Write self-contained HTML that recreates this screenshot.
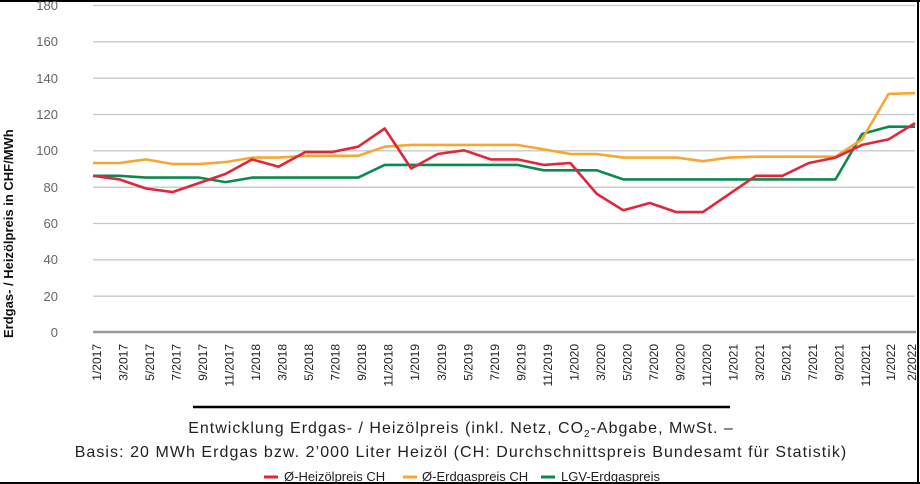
<!DOCTYPE html>
<html><head><meta charset="utf-8"><style>
html,body{margin:0;padding:0;background:#fff;}
svg{display:block;font-family:"Liberation Sans","DejaVu Sans",sans-serif;}
</style></head><body>
<svg width="920" height="484" viewBox="0 0 920 484" xmlns="http://www.w3.org/2000/svg">
<rect x="0" y="0" width="920" height="484" fill="#fff"/>
<line x1="0" y1="1" x2="920" y2="1" stroke="#000" stroke-width="2"/>
<line x1="918" y1="0" x2="918" y2="484" stroke="#000" stroke-width="2"/>
<line x1="0" y1="483" x2="920" y2="483" stroke="#000" stroke-width="2"/>
<g stroke="#c8c8c8" stroke-width="1.3">
<line x1="93" x2="915" y1="5.5" y2="5.5"/>
<line x1="93" x2="915" y1="41.8" y2="41.8"/>
<line x1="93" x2="915" y1="78.2" y2="78.2"/>
<line x1="93" x2="915" y1="114.5" y2="114.5"/>
<line x1="93" x2="915" y1="150.8" y2="150.8"/>
<line x1="93" x2="915" y1="187.2" y2="187.2"/>
<line x1="93" x2="915" y1="223.5" y2="223.5"/>
<line x1="93" x2="915" y1="259.8" y2="259.8"/>
<line x1="93" x2="915" y1="296.2" y2="296.2"/>
</g>
<line x1="93" x2="916" y1="332" y2="332" stroke="#999" stroke-width="2.5"/>
<g fill="#666" font-size="13" text-anchor="end">
<text x="58" y="10">180</text><text x="58" y="46">160</text><text x="58" y="83">140</text>
<text x="58" y="119">120</text><text x="58" y="155">100</text><text x="58" y="192">80</text>
<text x="58" y="228">60</text><text x="58" y="264">40</text><text x="58" y="301">20</text>
<text x="58" y="337">0</text>
</g>
<text transform="translate(13,338) rotate(-90)" font-size="13" font-weight="bold" fill="#111">Erdgas- / Heizölpreis in CHF/MWh</text>
<g id="lines" fill="none" stroke-width="2.6" stroke-linejoin="round"></g>
<g fill="#222" font-size="12" text-anchor="end" id="xl">
<text transform="translate(101,344) rotate(-90)">1/2017</text>
<text transform="translate(127.5,344) rotate(-90)">3/2017</text>
<text transform="translate(154,344) rotate(-90)">5/2017</text>
<text transform="translate(180.6,344) rotate(-90)">7/2017</text>
<text transform="translate(207.1,344) rotate(-90)">9/2017</text>
<text transform="translate(233.6,344) rotate(-90)">11/2017</text>
<text transform="translate(260.1,344) rotate(-90)">1/2018</text>
<text transform="translate(286.6,344) rotate(-90)">3/2018</text>
<text transform="translate(313.2,344) rotate(-90)">5/2018</text>
<text transform="translate(339.7,344) rotate(-90)">7/2018</text>
<text transform="translate(366.2,344) rotate(-90)">9/2018</text>
<text transform="translate(392.7,344) rotate(-90)">11/2018</text>
<text transform="translate(419.2,344) rotate(-90)">1/2019</text>
<text transform="translate(445.8,344) rotate(-90)">3/2019</text>
<text transform="translate(472.3,344) rotate(-90)">5/2019</text>
<text transform="translate(498.8,344) rotate(-90)">7/2019</text>
<text transform="translate(525.3,344) rotate(-90)">9/2019</text>
<text transform="translate(551.8,344) rotate(-90)">11/2019</text>
<text transform="translate(578.4,344) rotate(-90)">1/2020</text>
<text transform="translate(604.9,344) rotate(-90)">3/2020</text>
<text transform="translate(631.4,344) rotate(-90)">5/2020</text>
<text transform="translate(657.9,344) rotate(-90)">7/2020</text>
<text transform="translate(684.4,344) rotate(-90)">9/2020</text>
<text transform="translate(711,344) rotate(-90)">11/2020</text>
<text transform="translate(737.5,344) rotate(-90)">1/2021</text>
<text transform="translate(764,344) rotate(-90)">3/2021</text>
<text transform="translate(790.5,344) rotate(-90)">5/2021</text>
<text transform="translate(817,344) rotate(-90)">7/2021</text>
<text transform="translate(843.6,344) rotate(-90)">9/2021</text>
<text transform="translate(870.1,344) rotate(-90)">11/2021</text>
<text transform="translate(895,344) rotate(-90)">1/2022</text>
<text transform="translate(916,344) rotate(-90)">2/2022</text>
</g>
<line x1="193" x2="730" y1="407" y2="407" stroke="#000" stroke-width="2.5"/>
<text x="461" y="433" font-size="16" text-anchor="middle" fill="#222" letter-spacing="1.0">Entwicklung Erdgas- / Heizölpreis (inkl. Netz, CO<tspan font-size="10" dy="4">2</tspan><tspan dy="-4">-Abgabe, MwSt. –</tspan></text>
<text x="461" y="457" font-size="16" text-anchor="middle" fill="#222" letter-spacing="1.05">Basis: 20 MWh Erdgas bzw. 2’000 Liter Heizöl (CH: Durchschnittspreis Bundesamt für Statistik)</text>
<g font-size="13" fill="#222">
<line x1="264" x2="278" y1="477" y2="477" stroke="#e0263a" stroke-width="3"/>
<text x="284" y="481">Ø-Heizölpreis CH</text>
<line x1="403" x2="417" y1="477" y2="477" stroke="#f5a732" stroke-width="3"/>
<text x="422" y="481">Ø-Erdgaspreis CH</text>
<line x1="541" x2="555" y1="477" y2="477" stroke="#0a8a4f" stroke-width="3"/>
<text x="561" y="481">LGV-Erdgaspreis</text>
</g>
</svg>
<script>
var red=[86,84,79,77,82,87,95,91,99,99,102,112,90,98,100,95,95,92,93,76,67,71,66,66,76,86,86,93,96,103,106,115];
var org=[93,93,95,92.5,92.5,93.5,96,96,97,97,97,102,103,103,103,103,103,100.5,98,98,96,96,96,94,96,96.5,96.5,96.5,96.5,106,131,131.5];
var grn=[86,86,85,85,85,82.5,85,85,85,85,85,92,92,92,92,92,92,89,89,89,84,84,84,84,84,84,84,84,84,109,113,113];
function pts(a){return a.map(function(v,i){return (93+i*822/31).toFixed(1)+","+(332-v*1.8167).toFixed(1)}).join(" ")}
var g=document.getElementById("lines");
[[grn,"#0a8a4f"],[org,"#f5a732"],[red,"#e0263a"]].forEach(function(s){
var p=document.createElementNS("http://www.w3.org/2000/svg","polyline");
p.setAttribute("points",pts(s[0]));p.setAttribute("stroke",s[1]);g.appendChild(p);});
</script>
</body></html>
